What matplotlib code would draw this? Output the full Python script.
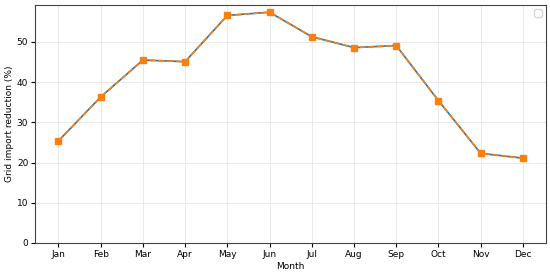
import matplotlib
matplotlib.use('Agg')
import matplotlib.pyplot as plt

months = ['Jan', 'Feb', 'Mar', 'Apr', 'May', 'Jun', 'Jul', 'Aug', 'Sep', 'Oct', 'Nov', 'Dec']
reduction = [25.4, 36.3, 45.5, 45.1, 56.6, 57.4, 51.3, 48.6, 49.1, 35.4, 22.3, 21.1]

plt.rcParams['font.family'] = ['DejaVu Sans']
plt.rcParams['font.size'] = 6.5

fig, ax = plt.subplots(figsize=(5.5, 2.73), dpi=100)
x = list(range(len(months)))
ax.plot(x, reduction, color='#1f77b4', linewidth=1.2)
ax.plot(x, reduction, color='#ff7f0e', linestyle='--', linewidth=1.2,
        marker='s', markersize=5)
ax.set_xticks(x)
ax.set_xticklabels(months)
ax.set_ylim(bottom=0)
ax.tick_params(length=3, pad=2)
ax.grid(True, color='#e6e6e6', linewidth=0.6)
ax.set_xlabel('Month', labelpad=2)
ax.set_ylabel('Grid import reduction (%)', labelpad=2)
for s in ax.spines.values():
    s.set_color('#444444')
ax.legend(loc='upper right')

plt.subplots_adjust(left=0.064, right=0.993, top=0.982, bottom=0.11)
fig.savefig('out.png', dpi=100)
